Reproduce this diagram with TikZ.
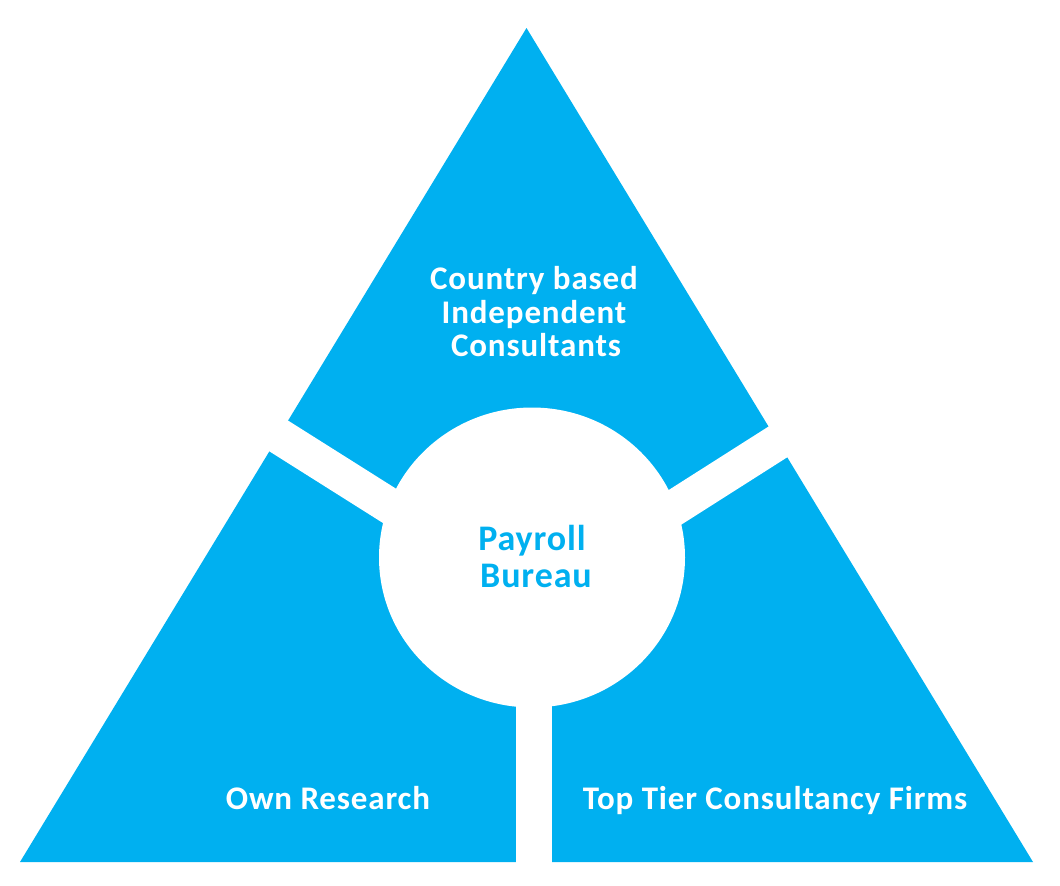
\documentclass[tikz,border=0pt]{standalone}
\usepackage{fontspec}
\setmainfont{Carlito}
\newfontfamily\widefont[LetterSpace=2.6]{Carlito}
\newfontfamily\widecfont[LetterSpace=2.5]{Carlito}
\usetikzlibrary{calc}
\definecolor{pblue}{HTML}{00B0F0}
\begin{document}
\begin{tikzpicture}[x=1pt,y=-1pt,
  lbl/.style={font=\widefont\bfseries\fontsize{33}{34}\selectfont, text=white, anchor=base, inner sep=0pt},
  clbl/.style={font=\widecfont\bfseries\fontsize{36}{38}\selectfont, text=pblue, anchor=base, inner sep=0pt},
  gap/.style={draw=white, line width=36pt, line cap=butt}]
\useasboundingbox[fill=white] (0,0) rectangle (1060,886);
\coordinate (A) at (526.5,28);
\coordinate (BL) at (20,862);
\coordinate (BR) at (1033,862);
\coordinate (O) at (534,597);
\coordinate (GL) at ($(O)!1.5!(288.3,442)$);
\coordinate (GR) at ($(O)!1.5!(768.3,448)$);
\coordinate (GB) at (534,880);
\fill[pblue] (A) -- (BL) -- (BR) -- cycle;
\draw[gap] (O) -- (GL);
\draw[gap] (O) -- (GR);
\draw[gap] (O) -- (GB);
\fill[white] (532,557.5) ellipse [x radius=153, y radius=150];
\node[lbl] (t1) at (534,289.3) {Country based};
\node[lbl] (t2) at (534,323.3) {Independent};
\node[lbl] (t3) at (536,356.7) {Consultants};
\node[clbl] (c1) at (532,550) {Payroll};
\node[clbl] (c2) at (536,587.7) {Bureau};
\node[lbl] (l1) at (328,809.3) {Own Research};
\node[lbl] (r1) at (775,809.3) {Top Tier Consultancy Firms};
\end{tikzpicture}
\end{document}
